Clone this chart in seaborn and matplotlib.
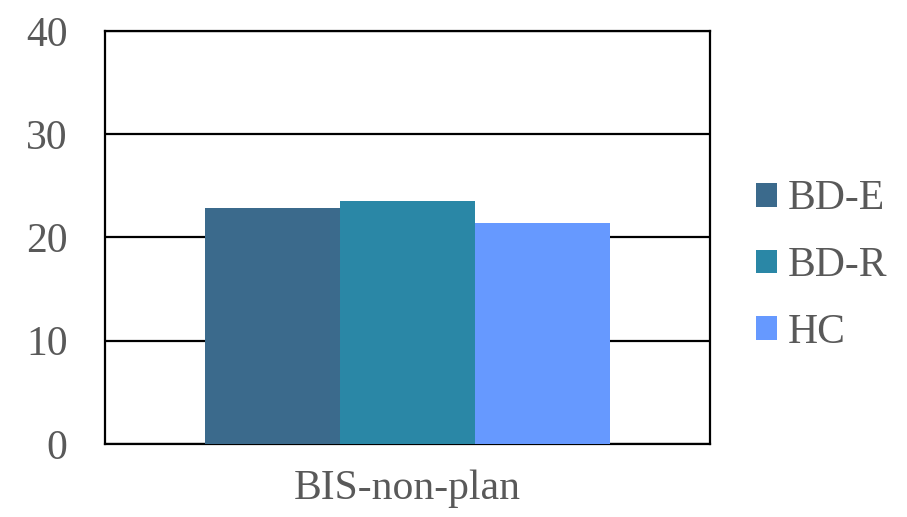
import matplotlib
matplotlib.use("Agg")
import matplotlib.pyplot as plt
import seaborn as sns
import pandas as pd

# Mean BIS non-planning scores per group
categories = ["BIS-non-plan"]
groups = ["BD-E", "BD-R", "HC"]
values = [22.9, 23.5, 21.4]
colors = ["#3B6A8C", "#2A87A6", "#6699FF"]
y_ticks = [0, 10, 20, 30, 40]

df = pd.DataFrame({
    "measure": categories * len(groups),
    "group": groups,
    "score": values,
})

sns.set_theme(style="white")
plt.rcParams["font.family"] = ["Liberation Serif", "DejaVu Serif"]
text_color = "#595959"

fig = plt.figure(figsize=(9.07, 5.17), dpi=100)
ax = fig.add_axes([105 / 907, 1 - 444 / 517, 605 / 907, 413 / 517])

sns.barplot(data=df, x="measure", y="score", hue="group", hue_order=groups,
            palette=colors, width=0.668, gap=0, saturation=1, ax=ax,
            errorbar=None, zorder=3, linewidth=0)

ax.set_xlim(-0.5, 0.5)
ax.set_ylim(0, 40)
ax.set_yticks(y_ticks)
ax.set_xlabel("")
ax.set_ylabel("")

ax.yaxis.grid(True, color="black", linewidth=1.6, zorder=1)
ax.xaxis.grid(False)
ax.set_axisbelow(True)
for sp in ax.spines.values():
    sp.set_visible(True)
    sp.set_color("black")
    sp.set_linewidth(1.6)

ax.tick_params(axis="y", length=0, pad=27, labelsize=30, labelcolor=text_color)
ax.tick_params(axis="x", length=0, pad=18, labelsize=30, labelcolor=text_color)

handles, labels = ax.get_legend_handles_labels()
ax.legend(handles, labels, loc="center left",
          bbox_to_anchor=(756 / 907, 1 - 266 / 517), bbox_transform=fig.transFigure,
          frameon=False, fontsize=30, labelcolor=text_color,
          handlelength=0.5, handleheight=0.5, handletextpad=0.26,
          labelspacing=0.68, borderpad=0, borderaxespad=0)

fig.savefig("out.png", dpi=100)
